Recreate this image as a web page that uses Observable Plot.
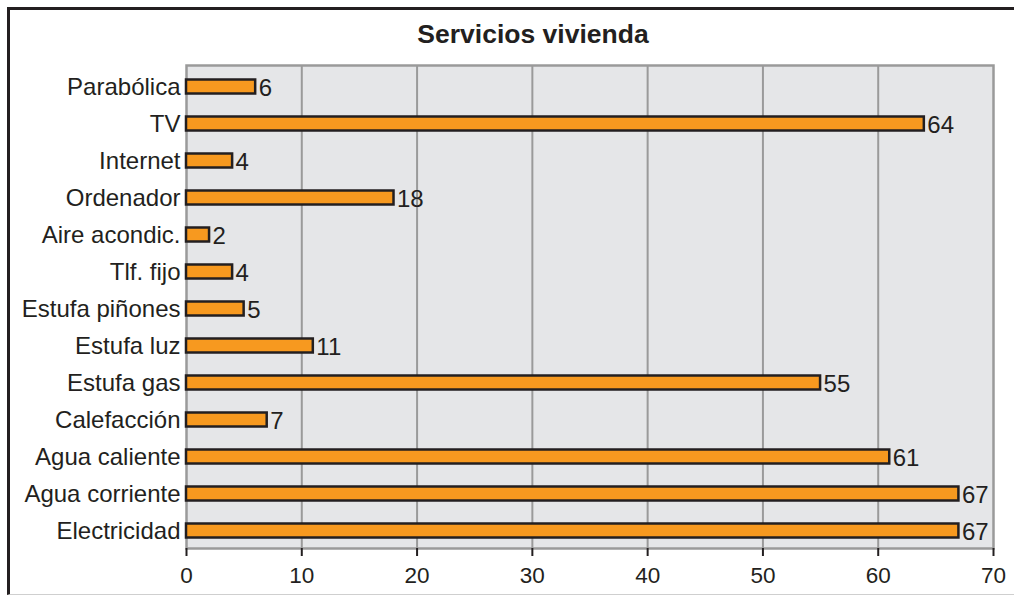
<!DOCTYPE html>
<html>
<head>
<meta charset="utf-8">
<script src="https://cdn.jsdelivr.net/npm/d3@7"></script>
<script src="https://cdn.jsdelivr.net/npm/@observablehq/plot@0.6"></script>
<style>
  html, body { margin: 0; padding: 0; background: #fff; overflow: hidden; }
  #wrap { position: relative; width: 1014px; height: 597px; overflow: hidden; font-family: "Liberation Sans", Arial, Helvetica, sans-serif; }
  #border { position: absolute; left: 7px; top: 7px; width: 1100px; height: 588px;
            border-left: 3px solid #231f20; border-top: 3px solid #231f20; border-bottom: 1px solid #cfcfcf; box-sizing: border-box; }
  #title { position: absolute; left: 0; top: 18px; width: 1066px; text-align: center;
           font-weight: bold; font-size: 26.5px; color: #231f20; line-height: 32px; }
  #chart { position: absolute; left: 0; top: 0; }
</style>
</head>
<body>
<div id="wrap">
  <div id="border"></div>
  <div id="title">Servicios vivienda</div>
  <div id="chart"></div>
</div>
<script>
const categories = ["Parabólica", "TV", "Internet", "Ordenador", "Aire acondic.", "Tlf. fijo",
  "Estufa piñones", "Estufa luz", "Estufa gas", "Calefacción", "Agua caliente", "Agua corriente", "Electricidad"];
const values = [6, 64, 4, 18, 2, 4, 5, 11, 55, 7, 61, 67, 67];
const xTicks = [0, 10, 20, 30, 40, 50, 60, 70];

const data = categories.map((c, i) => ({category: c, value: values[i]}));

const chart = Plot.plot({
  width: 1014,
  height: 597,
  marginLeft: 186,
  marginRight: 21,
  marginTop: 65,
  marginBottom: 49,
  style: {background: "transparent", fontFamily: "'Liberation Sans', Arial, Helvetica, sans-serif", color: "#231f20"},
  x: {domain: [0, 70], ticks: xTicks},
  y: {domain: categories, range: [67, 549], padding: 0},
  marks: [
    Plot.frame({fill: "#e5e6e8", stroke: null}),
    Plot.gridX(xTicks.slice(1, -1), {stroke: "#9a9a9a", strokeOpacity: 1, strokeWidth: 2}),
    Plot.frame({stroke: "#9a9a9a", strokeWidth: 2.5}),
    Plot.barX(data, {x: "value", y: "category", insetTop: 11.5, insetBottom: 11.5, fill: "#f7991f", stroke: "#231f20", strokeWidth: 2.5}),
    Plot.text(data, {x: "value", y: "category", text: d => String(d.value), textAnchor: "start", dx: 3, dy: 1, fontSize: 24, fill: "#231f20"}),
    Plot.axisY({tickSize: 0, tickPadding: 6, fontSize: 24, label: null, fill: "#231f20"}),
    Plot.axisX({ticks: xTicks, tickSize: 8, tickPadding: 11, fontSize: 22.5, label: null, stroke: "#231f20", strokeWidth: 2, fill: "#231f20"})
  ]
});
document.getElementById("chart").appendChild(chart);
</script>
</body>
</html>
